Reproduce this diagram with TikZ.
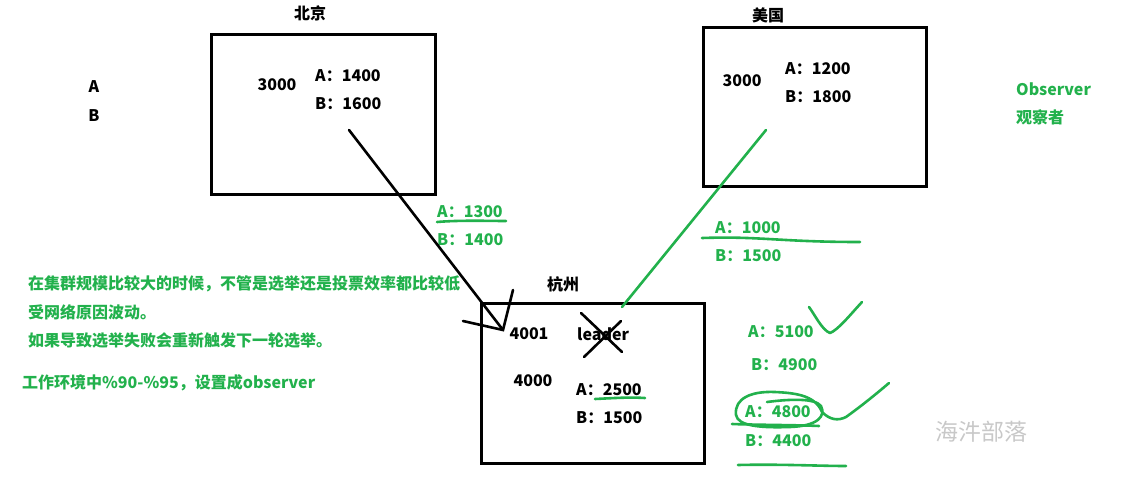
\documentclass[tikz,border=0pt]{standalone}
\usepackage{fontspec}
\setmainfont{Noto Sans CJK SC}
\definecolor{pgreen}{RGB}{34,177,76}
\definecolor{wmgray}{RGB}{200,200,200}
\begin{document}
\begin{tikzpicture}[x=1pt,y=-1pt,
  every node/.style={inner sep=0pt},
  txt/.style={font=\fontsize{16}{19}\selectfont\bfseries, text=black},
  gtxt/.style={font=\fontsize{16}{19}\selectfont\bfseries, text=pgreen},
  cnt/.style={font=\fontsize{16}{19}\selectfont\bfseries, text=pgreen},
  cbox/.style={draw=black, line width=3pt, fill=none},
  ink/.style={draw=black, line width=2.6pt, line cap=round},
  gink/.style={draw=pgreen, line width=2.6pt, line cap=round, line join=round}
]
\useasboundingbox (0,0) rectangle (1128,480);

% ---- boxes
\node[cbox, minimum width=224pt, minimum height=160pt] (bj) at (323,114) {};
\node[cbox, minimum width=223pt, minimum height=159pt] (us) at (814.5,106.5) {};
\node[cbox, minimum width=223pt, minimum height=160pt] (hz) at (592.5,383) {};

% ---- titles
\node[txt] (bjT) at (310,13) {北京};
\node[txt] (usT) at (768,15) {美国};
\node[txt] (hzT) at (563,284) {杭州};

% ---- A / B left
\node[txt] (la) at (94,87) {A};
\node[txt] (lb) at (94,116) {B};

% ---- Beijing contents
\node[txt] (bj3) at (277,85) {3000};
\node[txt, anchor=west] (bjA) at (315,76) {A：1400};
\node[txt, anchor=west] (bjB) at (315,104) {B：1600};

% ---- USA contents
\node[txt] (us3) at (742,81) {3000};
\node[txt, anchor=west] (usA) at (785,69) {A：1200};
\node[txt, anchor=west] (usB) at (785,97) {B：1800};

% ---- Observer
\node[gtxt, anchor=west] (obs) at (1016,89) {Observer};
\node[gtxt, anchor=west] (obs2) at (1016,117) {观察者};

% ---- Hangzhou contents
\node[txt] (h4001) at (529,334) {4001};
\node[txt, anchor=west] (hlead) at (577,334) {leader};
\node[txt] (h4000) at (533,381) {4000};
\node[txt, anchor=west] (hA) at (576,390) {A：2500};
\node[txt, anchor=west] (hB) at (576,418) {B：1500};

% ---- vote counts (green)
\node[gtxt, anchor=west] (v1A) at (437,212) {A：1300};
\node[gtxt, anchor=west] (v1B) at (437,240) {B：1400};
\node[gtxt, anchor=west] (v2A) at (715,228) {A：1000};
\node[gtxt, anchor=west] (v2B) at (715,256) {B：1500};
\node[gtxt, anchor=west] (v3A) at (748,332) {A：5100};
\node[gtxt, anchor=west] (v3B) at (751,365) {B：4900};
\node[gtxt, anchor=west] (v4A) at (745,412) {A：4800};
\node[gtxt, anchor=west] (v4B) at (745,441) {B：4400};

% ---- notes
\node[cnt, anchor=west] (n1) at (28,284) {在集群规模比较大的时候，不管是选举还是投票效率都比较低};
\node[cnt, anchor=west] (n2) at (28,312) {受网络原因波动。};
\node[cnt, anchor=west] (n3) at (28,340) {如果导致选举失败会重新触发下一轮选举。};
\node[cnt, anchor=west] (n4) at (22,383) {工作环境中\%90-\%95，设置成observer};

% ---- watermark
\node[font=\fontsize{23}{27}\selectfont, text=wmgray] (wm) at (981,432) {海汼部落};

% ---- connectors
\coordinate (bjs) at (349,130);
\coordinate (hzt) at (503,330);
\coordinate (ah1) at (513,290);
\coordinate (ah2) at (463,321);
\draw[ink] (bjs) -- (hzt);
\draw[ink] (ah1) -- (hzt) -- (ah2);

\coordinate (uss) at (766,130);
\coordinate (hze) at (622,307);
\draw[gink] (uss) -- (hze);

% ---- cross over leader
\coordinate (x1) at (581,313);
\coordinate (x2) at (622,352);
\coordinate (x3) at (584,357);
\coordinate (x4) at (621,321);
\draw[ink] (x1) -- (x2);
\draw[ink] (x3) -- (x4);

% ---- green handwriting marks
\draw[gink] (437,222) .. controls (460,220) and (490,221) .. (506,221);
\draw[gink] (702,238) .. controls (760,236) and (780,242) .. (860,242);
\draw[gink] (595,399) .. controls (615,398) and (630,397) .. (645,398);
% check mark near 5100
\draw[gink] (809,307) .. controls (815,315) and (822,330) .. (830,333)
   .. controls (838,330) and (850,315) .. (862,302);
% ellipse around 4800
\draw[gink] (767,402) .. controls (790,399) and (815,398) .. (821,406)
   .. controls (826,416) and (818,426) .. (790,427)
   .. controls (760,428) and (738,426) .. (736,415)
   .. controls (734,398) and (752,391) .. (775,392)
   .. controls (795,393) and (815,395) .. (822,412);
\draw[gink] (732,424) .. controls (760,425) and (800,425) .. (819,426);
\draw[gink] (822,412) .. controls (830,420) and (838,421) .. (846,417)
   .. controls (860,407) and (875,395) .. (889,383);
% underline under 4400
\draw[gink] (738,465) .. controls (780,464) and (820,466) .. (846,466);
\end{tikzpicture}
\end{document}
